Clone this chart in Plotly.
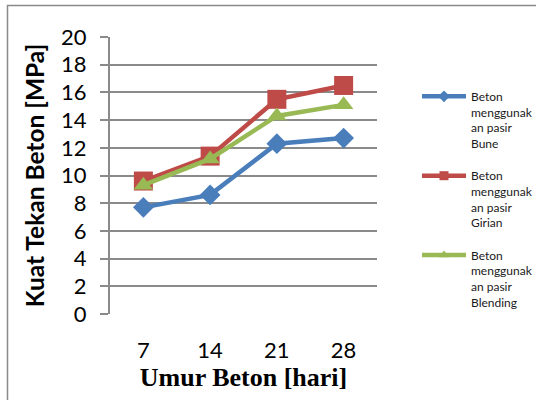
import plotly.graph_objects as go

categories = ["7", "14", "21", "28"]
bune = [7.7, 8.6, 12.3, 12.7]
girian = [9.6, 11.4, 15.5, 16.5]
blending = [9.3, 11.2, 14.3, 15.1]
names = ["Beton<br>menggunak<br>an pasir<br>Bune",
         "Beton<br>menggunak<br>an pasir<br>Girian",
         "Beton<br>menggunak<br>an pasir<br>Blending"]
y_ticks = [0, 2, 4, 6, 8, 10, 12, 14, 16, 18, 20]

colors = ["#4A7EBB", "#BE4B48", "#98B954"]
symbols = ["diamond", "square", "triangle-up"]
sizes = [16, 19, 17]
series = [bune, girian, blending]

fig = go.Figure()
for i, vals in enumerate(series):
    fig.add_trace(go.Scatter(
        x=categories, y=vals, mode="lines+markers", name=names[i],
        legendgroup=f"g{i}", showlegend=False,
        line=dict(color=colors[i], width=4.5),
        marker=dict(symbol=symbols[i], size=sizes[i], color=colors[i]),
    ))
for i in range(3):
    fig.add_trace(go.Scatter(
        x=[None], y=[None], mode="lines+markers", name=names[i],
        legendgroup=f"g{i}",
        line=dict(color=colors[i], width=4.5),
        marker=dict(symbol=symbols[i], size=9, color=colors[i]),
    ))

L, R, T, B = 110, 159, 37, 86
W, H = 536 - L - R, 400 - T - B

fig.update_layout(
    width=536, height=400,
    margin=dict(l=L, r=R, t=T, b=B, autoexpand=False),
    paper_bgcolor="white", plot_bgcolor="white",
    font=dict(family="Lato", color="#000000"),
    legend=dict(
        x=(417 - L) / W, y=1 - (82 - T) / H, xanchor="left", yanchor="top",
        font=dict(family="Lato", size=12, color="#1a1a1a"),
        tracegroupgap=14, valign="top", itemwidth=44,
        bgcolor="rgba(0,0,0,0)",
    ),
    xaxis=dict(
        type="category", range=[-0.5, len(categories) - 0.5],
        showgrid=False, showline=False, ticks="",
        automargin=False,
        tickfont=dict(family="Lato", size=22), ticklabelstandoff=21,
        title=dict(text="<b>Umur Beton [hari]</b>",
                   font=dict(family="Liberation Serif", size=26), standoff=4),
        zeroline=False,
    ),
    yaxis=dict(
        range=[0, 20], tickvals=y_ticks, showgrid=True, automargin=False,
        gridcolor="#8a8a8a", gridwidth=1.6,
        showline=True, linecolor="#8a8a8a", linewidth=2,
        ticks="outside", ticklen=8, tickcolor="#8a8a8a", tickwidth=1.6,
        tickfont=dict(family="Lato", size=22), ticklabelstandoff=9,
        title=dict(text="<b>Kuat Tekan Beton [MPa]</b>",
                   font=dict(family="Lato", size=24.5), standoff=9),
        zeroline=False,
    ),
    shapes=[dict(
        type="rect", xref="paper", yref="paper",
        x0=(7.5 - L) / W, x1=2.0, y0=-1.0, y1=1 + (T - 5.5) / H,
        line=dict(color="#8a8a8a", width=1.5), fillcolor="rgba(0,0,0,0)",
        layer="below",
    )],
)

fig.write_html("out.html", config={"displayModeBar": False},
               post_script="document.body.style.margin='0';")
